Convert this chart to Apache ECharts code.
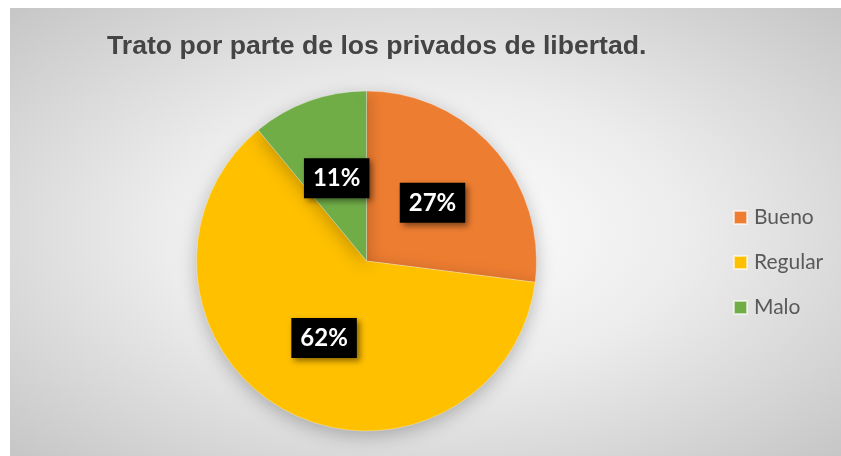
<!DOCTYPE html>
<html>
<head>
<meta charset="utf-8">
<script src="https://cdn.jsdelivr.net/npm/echarts@6/dist/echarts.min.js"></script>
<style>
  html, body { margin: 0; padding: 0; background: #fff; }
  #chart {
    position: absolute;
    left: 10px;
    top: 8px;
    width: 831px;
    height: 448px;
    background: radial-gradient(ellipse farthest-corner at 50% 50%, #ffffff 0%, #ececec 45%, #c6c6c6 100%);
  }
</style>
</head>
<body>
<div id="chart"></div>
<script>
const titleText = 'Trato por parte de los privados de libertad.'
const categories = ['Bueno', 'Regular', 'Malo']
const values = [27, 62, 11]
const colors = ['#ED7D31', '#FFC000', '#70AD47']

const chart = echarts.init(document.getElementById('chart'), null, { renderer: 'canvas' })

chart.setOption({
  animation: false,
  title: {
    text: titleText,
    left: 92,
    top: 20,
    textStyle: {
      fontFamily: 'Liberation Sans',
      fontWeight: 'bold',
      fontSize: 26.6,
      color: '#444444'
    }
  },
  legend: {
    orient: 'vertical',
    left: 718,
    top: 194,
    icon: 'rect',
    itemWidth: 13,
    itemHeight: 13,
    itemGap: 24,
    data: categories,
    textStyle: {
      fontFamily: 'Lato',
      fontSize: 21,
      color: '#595959',
      padding: [0, 0, 0, 2]
    }
  },
  series: [
    {
      type: 'pie',
      center: [356.5, 253],
      radius: 170,
      startAngle: 90,
      clockwise: true,
      color: colors,
      itemStyle: {
        borderColor: 'rgba(255,255,255,0.6)',
        borderWidth: 0.5,
        shadowColor: 'rgba(0, 0, 0, 0.25)',
        shadowBlur: 18,
        shadowOffsetY: 5
      },
      label: {
        position: 'inside',
        formatter: '{c}%',
        fontFamily: 'Lato',
        fontWeight: 'bold',
        fontSize: 24,
        color: '#fff',
        backgroundColor: '#000',
        padding: [8, 9],
        shadowColor: 'rgba(0, 0, 0, 0.45)',
        shadowBlur: 6,
        shadowOffsetX: 3,
        shadowOffsetY: 3
      },
      labelLine: { show: false },
      emphasis: { disabled: true },
      data: categories.map((name, i) => ({ name, value: values[i] }))
    }
  ]
})
</script>
</body>
</html>
